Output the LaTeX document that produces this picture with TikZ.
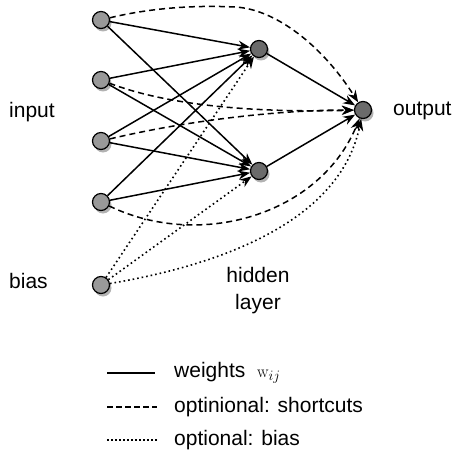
\documentclass[tikz,border=0pt]{standalone}
\usepackage[no-math]{fontspec}
\setmainfont{Liberation Sans}
\usetikzlibrary{arrows.meta,shadows}
\tikzset{
  neuronbase/.style={circle, draw=black, line width=1.2pt, minimum size=17pt, inner sep=0pt,
    drop shadow={shadow xshift=2pt, shadow yshift=-3pt, opacity=0.3, fill=black}},
  inneuron/.style={neuronbase, fill=black!40},
  hidneuron/.style={neuronbase, fill=black!58},
  lbl/.style={font=\fontsize{21}{27}\selectfont, inner sep=0pt},
  tipstyle/.style={-{Stealth[length=12pt, width=9pt]}},
  wline/.style={line width=1.5pt, tipstyle},
  sline/.style={line width=1.5pt, dash pattern=on 6pt off 4pt, tipstyle},
  bline/.style={line width=1.6pt, dash pattern=on 1.6pt off 3pt, tipstyle},
  legline/.style={line width=1.4pt},
}
\begin{document}
\begin{tikzpicture}[x=1pt, y=-1pt]
\useasboundingbox (0,0) rectangle (455,468);
% nodes
\node[inneuron] (i1) at (101,20) {};
\node[inneuron] (i2) at (101,80) {};
\node[inneuron] (i3) at (101,141) {};
\node[inneuron] (i4) at (101,202) {};
\node[inneuron] (b) at (101,285) {};
\node[hidneuron] (h1) at (259,49) {};
\node[hidneuron] (h2) at (259,171) {};
\node[hidneuron] (o) at (363,110) {};
% labels
\node[lbl, anchor=west] (tin) at (9,112) {input};
\node[lbl, anchor=west] (tout) at (393,111) {output};
\node[lbl, anchor=west] (tbias) at (9,281) {bias};
\node[lbl, align=center] (thid) at (258,291) {hidden\\layer};
% shortcuts
\draw[sline] (i1) .. controls (150,8) and (195,5) .. (235,7)
                  .. controls (275,9) and (322,45) .. (o);
\draw[sline] (i2) .. controls (180,110) and (280,112) .. (o);
\draw[sline] (i3) .. controls (190,120) and (280,110) .. (o);
\draw[sline] (i4) .. controls (200,250) and (320,215) .. (o);
% bias
\draw[bline] (b) -- (h1);
\draw[bline] (b) -- (h2);
\draw[bline] (b) .. controls (220,265) and (340,222) .. (o);
% weights
\foreach \s in {i1,i2,i3,i4}{
  \draw[wline] (\s) -- (h1);
  \draw[wline] (\s) -- (h2);
}
\draw[wline] (h1) -- (o);
\draw[wline] (h2) -- (o);
% legend
\coordinate (la1) at (107,373); \coordinate (lb1) at (155,373);
\coordinate (la2) at (107,407); \coordinate (lb2) at (157,407);
\coordinate (la3) at (107,440); \coordinate (lb3) at (157,440);
\draw[legline] (la1) -- (lb1);
\draw[legline, dash pattern=on 6pt off 3pt] (la2) -- (lb2);
\draw[legline, dash pattern=on 1.5pt off 2.5pt] (la3) -- (lb3);
\node[lbl, anchor=west] (l1) at (174,373) {weights\ \ {\fontsize{19}{22}\selectfont$\mathrm{w}_{ij}$}};
\node[lbl, anchor=west] (l2) at (174,407) {optinional: shortcuts};
\node[lbl, anchor=west] (l3) at (174,440) {optional: bias};
\end{tikzpicture}
\end{document}
